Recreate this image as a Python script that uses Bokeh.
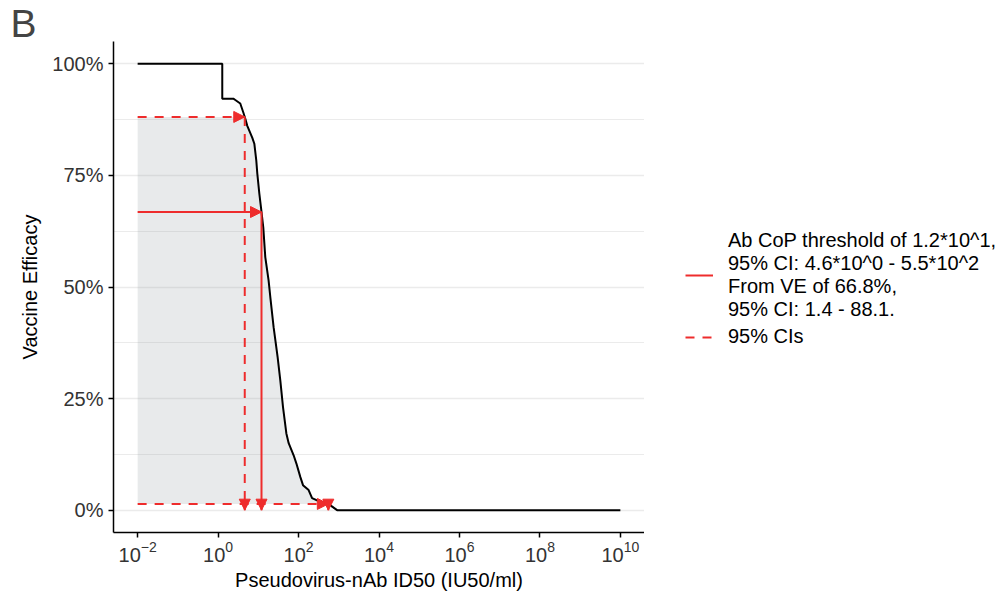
from bokeh.plotting import figure
from bokeh.layouts import row
from bokeh.models import (Range1d, FixedTicker, PrintfTickFormatter, Legend, LegendItem,
                          Arrow, NormalHead, ColumnDataSource)
from bokeh.embed import file_html
from bokeh.resources import INLINE

# ---- data ----
id50 = [0.01, 1.27, 1.27, 2.39, 2.68, 3.56, 4.24, 4.75, 5.32, 7.10, 7.96, 8.91, 9.44,
        10.6, 11.9, 13.3, 14.9, 18.0, 19.9, 24.0, 30.2, 35.2, 41.1, 49.8, 56.8, 75.5,
        88.1, 111, 129, 178, 217, 288, 348, 551, 908, 1e10]
ve = [100, 100, 92.2, 92.2, 91.9, 91.1, 89.1, 87.7, 86.1, 83.4, 82.1, 78.3, 75.4,
      70.9, 67.1, 63.3, 56.7, 51.5, 47.7, 41.0, 34.3, 29.1, 23.1, 17.2, 15.0, 12.3,
      10.5, 7.4, 5.6, 4.5, 2.7, 2.2, 1.9, 1.4, 0.0, 0.0]

cop = 12.0        # 1.2*10^1
cop_lo = 4.6      # 4.6*10^0
cop_hi = 550.0    # 5.5*10^2
ve_cop = 66.8
ve_lo = 1.4
ve_hi = 88.1
x_min = 0.01

x_ticks = [1e-2, 1e0, 1e2, 1e4, 1e6, 1e8, 1e10]
y_ticks = [0, 25, 50, 75, 100]
y_minor = [12.5, 37.5, 62.5, 87.5]

legend_solid = ("Ab CoP threshold of 1.2*10^1,\n95% CI: 4.6*10^0 - 5.5*10^2\n"
                "From VE of 66.8%,\n95% CI: 1.4 - 88.1.")
legend_dashed = "95% CIs"

RED = "#EE2C2C"
FONT = "Liberation Sans"
DASH = "9 8"

p = figure(width=644, height=598, x_axis_type="log", output_backend="svg",
           toolbar_location=None, title="B",
           x_range=Range1d(10 ** -2.6, 10 ** 10.6), y_range=Range1d(-5, 105),
           min_border_left=113, min_border_right=0, min_border_top=41,
           min_border_bottom=66)
p.outline_line_color = None
p.title.text_font = FONT
p.title.text_font_size = "39px"
p.title.text_font_style = "normal"
p.title.align = "left"
p.title.offset = -103
p.title.standoff = -6

# grid
p.xgrid.grid_line_color = None
p.ygrid.grid_line_color = "#EBEBEB"
p.ygrid.grid_line_width = 1.5
p.ygrid.minor_grid_line_color = "#EBEBEB"
p.ygrid.minor_grid_line_width = 1.2

# axes
p.xaxis.ticker = FixedTicker(ticks=x_ticks)
p.yaxis.ticker = FixedTicker(ticks=y_ticks, minor_ticks=y_minor)
p.yaxis.formatter = PrintfTickFormatter(format="%d%%")
for ax in (p.xaxis, p.yaxis):
    ax.axis_line_width = 1.5
    ax.axis_line_color = "black"
    ax.major_tick_line_width = 1.5
    ax.major_tick_line_color = "black"
    ax.major_tick_in = 0
    ax.major_tick_out = 5
    ax.minor_tick_line_color = None
    ax.major_label_text_font = FONT
    ax.major_label_text_font_size = "20px"
    ax.major_label_text_color = "#333333"
    ax.axis_label_text_font = FONT
    ax.axis_label_text_font_size = "20px"
    ax.axis_label_text_font_style = "normal"
    ax.axis_label_text_color = "black"
p.xaxis.axis_label = "Pseudovirus-nAb ID50 (IU50/ml)"
p.yaxis.axis_label = "Vaccine Efficacy"
p.xaxis.major_label_standoff = 3
p.yaxis.major_label_standoff = 5
p.xaxis.axis_label_standoff = 4
p.yaxis.axis_label_standoff = 8

# shaded CI region: between ve_lo and ve_hi, left of curve
sx = [x_min, cop_lo]
sy = [ve_hi, ve_hi]
for xv, yv in zip(id50, ve):
    if cop_lo < xv <= cop_hi and ve_lo <= yv <= ve_hi:
        sx.append(xv)
        sy.append(yv)
sx += [cop_hi, x_min]
sy += [ve_lo, ve_lo]
p.patch(sx, sy, fill_color="#8E949C", fill_alpha=0.2, line_color=None)

# curve
p.line(id50, ve, line_color="black", line_width=2)

# threshold lines
solid_src = ColumnDataSource(dict(x0=[x_min, cop], y0=[ve_cop, ve_cop],
                                  x1=[cop, cop], y1=[ve_cop, 0]))
dash_src = ColumnDataSource(dict(x0=[x_min, cop_lo, x_min, cop_hi],
                                 y0=[ve_hi, ve_hi, ve_lo, ve_lo],
                                 x1=[cop_lo, cop_lo, cop_hi, cop_hi],
                                 y1=[ve_hi, 0, ve_lo, 0]))
p.segment("x0", "y0", "x1", "y1", source=solid_src, line_color=RED, line_width=2)
p.segment("x0", "y0", "x1", "y1", source=dash_src, line_color=RED,
          line_width=2, line_dash=DASH)

for src in (solid_src, dash_src):
    p.add_layout(Arrow(end=NormalHead(size=11, fill_color=RED, line_color=RED,
                                      line_width=1),
                       x_start="x0", y_start="y0", x_end="x1", y_end="y1",
                       source=src, line_color=None))

# legend panel (legend-only proxy lines lie outside the visible range)
p2 = figure(width=355, height=598, output_backend="svg", toolbar_location=None,
            x_range=Range1d(0, 1), y_range=Range1d(0, 1),
            min_border=0, x_axis_type=None, y_axis_type=None)
p2.outline_line_color = None
p2.grid.visible = False
proxy = ColumnDataSource(dict(x=[-10, -9], y=[-10, -9]))
l1 = p2.line("x", "y", source=proxy, line_color=RED, line_width=2)
l2 = p2.line("x", "y", source=proxy, line_color=RED, line_width=2, line_dash=DASH)
legend = Legend(items=[LegendItem(label=legend_solid, renderers=[l1]),
                       LegendItem(label=legend_dashed, renderers=[l2])],
                location=(41, 184), orientation="vertical")
legend.label_text_font = FONT
legend.label_text_font_size = "20px"
legend.label_text_color = "black"
legend.label_text_line_height = 1.05
legend.glyph_width = 28
legend.label_standoff = 15
legend.padding = 0
legend.margin = 0
legend.spacing = 4
legend.border_line_color = None
legend.background_fill_alpha = 0
p2.add_layout(legend)

layout = row(p, p2, spacing=0)
open("out.html", "w").write(file_html(layout, INLINE))
